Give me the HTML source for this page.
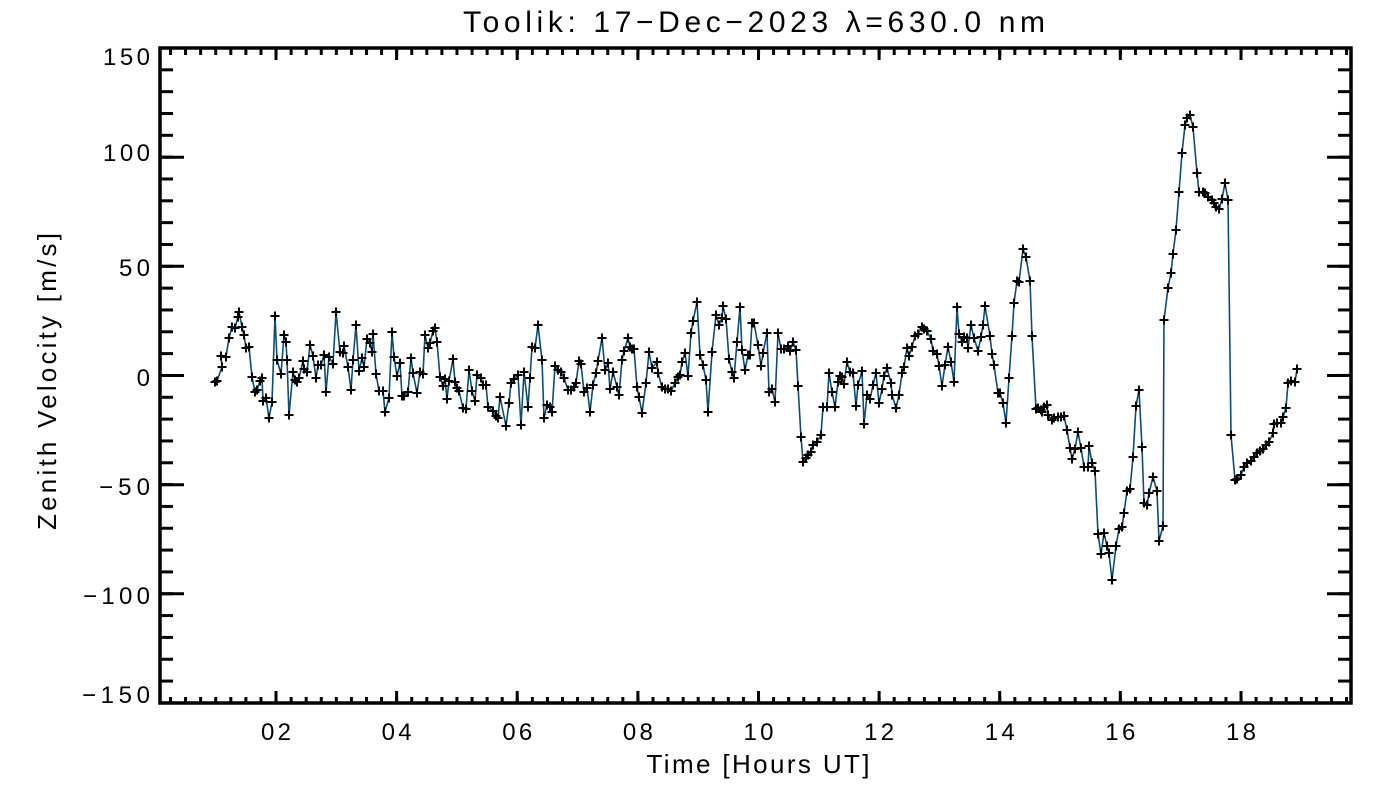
<!DOCTYPE html>
<html>
<head>
<meta charset="utf-8">
<style>
html,body{margin:0;padding:0;background:#fff;}
svg{display:block;}
text{font-family:"Liberation Sans","DejaVu Sans",sans-serif;fill:#000;}
</style>
</head>
<body>
<svg width="1400" height="800" viewBox="0 0 1400 800" xmlns="http://www.w3.org/2000/svg">
<defs>
<pattern id="px" patternUnits="userSpaceOnUse" x="169" y="0" width="15.0775" height="800">
<rect x="0" y="0" width="3" height="800" fill="#000"/>
</pattern>
<pattern id="py" patternUnits="userSpaceOnUse" x="0" y="46.5" width="2000" height="21.83">
<rect x="0" y="0" width="2000" height="3" fill="#000"/>
</pattern>
<marker id="p" markerUnits="userSpaceOnUse" markerWidth="12" markerHeight="12" refX="6" refY="6" viewBox="0 0 12 12" overflow="visible">
<path d="M1.5 6H10.5M6 1.5V10.5" stroke="#000" stroke-width="2" fill="none"/>
</marker>
</defs>
<rect width="1400" height="800" fill="#fff"/>

<!-- title -->
<text x="754" y="32" font-size="30" text-anchor="middle" textLength="582" lengthAdjust="spacing">Toolik: 17−Dec−2023 λ=630.0 nm</text>

<!-- minor ticks -->
<rect x="160" y="697" width="1191" height="6" fill="url(#px)"/>
<rect x="160" y="48" width="1191" height="7" fill="url(#px)"/>
<rect x="160" y="48" width="13" height="655" fill="url(#py)"/>
<rect x="1338" y="48" width="13" height="655" fill="url(#py)"/>

<!-- major ticks -->
<g stroke="#000" stroke-width="3">
<path d="M276 703V691M396.6 703V691M517.2 703V691M637.9 703V691M758.5 703V691M879.1 703V691M999.7 703V691M1120.3 703V691M1241 703V691"/>
<path d="M276 48V60M396.6 48V60M517.2 48V60M637.9 48V60M758.5 48V60M879.1 48V60M999.7 48V60M1120.3 48V60M1241 48V60"/>
<path d="M160 157.2H184M160 266.3H184M160 375.5H184M160 484.7H184M160 593.8H184"/>
<path d="M1351 157.2H1327M1351 266.3H1327M1351 375.5H1327M1351 484.7H1327M1351 593.8H1327"/>
</g>

<!-- frame -->
<rect x="160" y="48" width="1191" height="655" fill="none" stroke="#000" stroke-width="3.5"/>

<!-- y tick labels -->
<g font-size="24" text-anchor="end">
<text x="150" y="65" textLength="47" lengthAdjust="spacing">150</text>
<text x="150" y="161" textLength="47" lengthAdjust="spacing">100</text>
<text x="150" y="276" textLength="31" lengthAdjust="spacing">50</text>
<text x="150" y="386" textLength="13.5" lengthAdjust="spacing">0</text>
<text x="150" y="495" textLength="51" lengthAdjust="spacing">−50</text>
<text x="150" y="604" textLength="67" lengthAdjust="spacing">−100</text>
<text x="150" y="703" textLength="68" lengthAdjust="spacing">−150</text>
</g>

<!-- x tick labels -->
<g font-size="24" text-anchor="middle">
<text x="276" y="740" textLength="30" lengthAdjust="spacing">02</text>
<text x="396.6" y="740" textLength="30" lengthAdjust="spacing">04</text>
<text x="517.2" y="740" textLength="30" lengthAdjust="spacing">06</text>
<text x="637.9" y="740" textLength="30" lengthAdjust="spacing">08</text>
<text x="758.5" y="740" textLength="30" lengthAdjust="spacing">10</text>
<text x="879.1" y="740" textLength="30" lengthAdjust="spacing">12</text>
<text x="999.7" y="740" textLength="30" lengthAdjust="spacing">14</text>
<text x="1120.3" y="740" textLength="30" lengthAdjust="spacing">16</text>
<text x="1241" y="740" textLength="30" lengthAdjust="spacing">18</text>
</g>

<!-- axis titles -->
<text x="758" y="773" font-size="26" text-anchor="middle" textLength="223" lengthAdjust="spacing">Time [Hours UT]</text>
<text transform="translate(56,381.5) rotate(-90)" x="0" y="0" font-size="26" text-anchor="middle" textLength="297" lengthAdjust="spacing">Zenith Velocity [m/s]</text>

<!-- data -->
<polyline fill="none" stroke="#0f4c70" stroke-width="1.6" stroke-linejoin="round" marker-start="url(#p)" marker-mid="url(#p)" marker-end="url(#p)" points="
215,382 217,381 222,367 221,356 226,357 229,338 232,327 235,328 238,317 239,312 242,327 244,335 246,348 249,347 252,377 255,392 257,390 260,381 262,378 263,401 266,398 269,418 272,402 275,316 277,360 281,374 284,335 286,342 287,360 289,415 293,372 295,380 297,382 299,378 303,361 304,369 307,372 310,345 313,356 316,378 318,365 321,365 324,355 326,392 329,357 333,364 336,312 340,352 343,353 344,346 348,367 351,390 353,360 356,325 359,371 362,358 364,367 367,339 370,343 372,352 373,334 376,374 379,391 383,391 385,412 389,398 392,332 394,357 397,376 400,363 402,396 404,396 408,392 411,358 413,373 417,393 420,372 423,374 425,335 428,348 430,343 433,331 435,328 437,342 440,377 443,386 445,379 447,399 449,381 453,359 455,382 457,388 459,391 463,408 466,409 469,370 472,391 475,401 477,375 481,378 483,385 486,385 488,407 493,411 496,416 498,418 500,397 506,426 509,403 511,383 514,379 518,375 521,425 524,372 528,407 530,378 532,347 535,348 538,325 542,360 544,418 547,405 550,407 552,412 555,366 558,370 561,372 564,378 568,390 571,390 574,387 576,383 579,361 581,364 584,392 587,388 590,412 593,385 596,373 598,361 602,338 605,370 608,363 610,389 613,372 617,387 619,395 622,360 624,351 628,338 630,347 632,349 634,349 637,387 639,397 642,413 646,383 649,352 652,368 657,362 658,373 662,387 665,389 668,389 671,391 675,383 678,377 680,375 682,362 685,353 688,376 691,333 693,321 697,302 700,355 703,365 706,380 708,412 712,352 716,315 719,325 722,318 723,306 726,319 729,359 732,372 734,378 737,342 740,307 742,350 745,370 748,355 750,355 752,323 754,323 758,345 761,366 763,353 767,333 769,392 772,389 775,402 778,333 781,349 784,349 788,346 790,351 793,342 796,350 798,386 801,437 803,462 806,458 808,455 811,452 813,445 817,442 821,435 823,407 827,407 829,373 832,392 835,407 838,382 840,376 842,377 844,384 847,362 850,372 853,373 856,406 858,385 862,371 864,424 867,395 870,399 873,385 876,373 879,403 882,389 884,376 887,368 891,383 892,395 896,408 899,395 902,373 904,367 907,348 909,356 912,347 915,336 918,334 922,327 924,329 927,331 931,339 933,351 937,354 939,366 942,386 945,365 948,347 951,362 954,382 957,307 959,334 962,342 964,337 967,338 968,348 971,325 974,338 978,351 981,337 983,325 985,306 990,336 992,354 994,365 998,393 1000,393 1003,403 1006,423 1009,378 1012,336 1014,303 1017,281 1019,282 1023,249 1026,257 1030,281 1032,336 1036,409 1038,408 1041,410 1042,412 1044,407 1047,405 1048,415 1052,420 1054,418 1058,417 1061,417 1064,416 1067,430 1070,448 1072,459 1075,449 1078,432 1081,448 1084,467 1088,467 1089,446 1092,463 1095,471 1098,534 1101,554 1104,533 1107,546 1109,553 1112,580 1116,546 1119,529 1122,527 1124,513 1127,491 1130,489 1133,457 1136,406 1139,390 1142,447 1144,503 1147,505 1149,493 1153,477 1157,491 1159,541 1163,526 1164,320 1168,288 1171,273 1173,254 1176,230 1179,192 1182,153 1185,125 1187,118 1190,115 1193,127 1197,173 1199,192 1203,192 1205,193 1208,197 1212,200 1214,203 1216,207 1219,209 1222,199 1225,183 1228,200 1231,435 1235,480 1237,479 1241,475 1244,467 1247,463 1251,461 1254,457 1257,453 1260,451 1263,449 1266,445 1269,442 1273,433 1274,424 1277,423 1281,423 1283,417 1286,408 1288,383 1291,381 1295,382 1297,369"/>
</svg>
</body>
</html>
